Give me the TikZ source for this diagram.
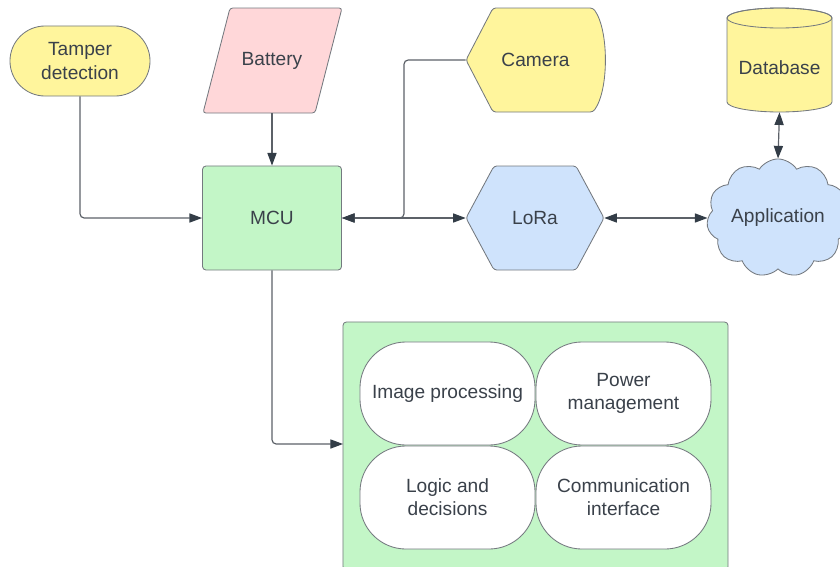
\documentclass[tikz,border=0pt]{standalone}
\usepackage{fontspec}
\setmainfont{Liberation Sans}
\usepackage{xcolor}
\usetikzlibrary{arrows.meta,shapes.symbols}

\definecolor{edgegray}{HTML}{5C6168}
\definecolor{tipgray}{HTML}{333D47}
\definecolor{txtgray}{HTML}{3A414A}
\definecolor{yelfill}{HTML}{FFF59C}
\definecolor{pinkfill}{HTML}{FFD7D9}
\definecolor{greenfill}{HTML}{C3F6C7}
\definecolor{bluefill}{HTML}{CFE3FC}

\begin{document}
\begin{tikzpicture}[x=0.025cm,y=-0.025cm,
        txt/.style={font=\fontsize{13.6}{16.5}\selectfont,text=txtgray,align=center,inner sep=0pt},
        outline/.style={draw=edgegray!85,line width=0.6pt},
        box/.style={txt,rectangle,minimum width=#1},
        wire/.style={draw=edgegray,line width=0.85pt,rounded corners=3pt},
        tip/.style={-{Triangle[length=9pt,width=6.5pt,color=tipgray]}},
        twotip/.style={{Triangle[length=9pt,width=6.5pt,color=tipgray]}-{Triangle[length=9pt,width=6.5pt,color=tipgray]}},
        blob/.style={txt,outline,fill=white,minimum width=4.375cm,minimum height=2.575cm,rounded corners=1.15cm}]
        \useasboundingbox (0,0) rectangle (840,566);

        % Inputs
        \draw (80,61) node[txt,outline,fill=yelfill,minimum width=3.5cm,minimum height=1.75cm,rounded corners=0.875cm](tamper) {Tamper\\detection};
        \draw[outline,fill=pinkfill,rounded corners=2pt] (203,113) -- (230,8) -- (342,8) -- (315,113) -- cycle;
        \draw (272,60.5) node[box=3.475cm,minimum height=2.625cm](battery) {Battery};
        \draw[outline,fill=yelfill,rounded corners=2pt] (466,60) -- (493,8) -- (593,8) .. controls (609,30) and (609,90) .. (593,112) -- (493,112) -- cycle;
        \draw (535.5,60) node[box=3.475cm,minimum height=2.6cm](camera) {Camera};

        % Controller
        \draw (272,218) node[txt,outline,fill=greenfill,minimum width=3.475cm,minimum height=2.6cm,rounded corners=2.5pt](mcu) {MCU};

        % Radio link
        \draw[outline,fill=bluefill,rounded corners=2pt] (466,218) -- (494,166) -- (576,166) -- (604,218) -- (576,270) -- (494,270) -- cycle;
        \draw (535,218) node[box=3.45cm,minimum height=2.6cm](lora) {LoRa};

        % Backend
        \draw[outline,fill=yelfill] (727,18) -- (727,102) arc[start angle=180,end angle=0,x radius=52.5,y radius=10] -- (832,18) arc[start angle=0,end angle=-180,x radius=52.5,y radius=10];
        \draw[outline] (779.5,18) ellipse[x radius=52.5,y radius=10];
        \draw (779.5,68) node[box=2.625cm,minimum height=2.2cm](db) {Database};
        \draw (778,218) node[txt,outline,fill=bluefill,cloud,cloud puffs=11,cloud puff arc=115,aspect=1.3,minimum width=3.35cm,minimum height=2.6cm](app) {Application};

        % Firmware blocks
        \draw (535.5,446) node[outline,fill=greenfill,minimum width=9.625cm,minimum height=6.2cm,rounded corners=2.5pt](core) {};
        \draw (447.5,393.5) node[blob](imgproc) {Image processing};
        \draw (623.5,393.5) node[blob](power) {Power\\management};
        \draw (447.5,497.5) node[blob](logic) {Logic and\\decisions};
        \draw (623.5,497.5) node[blob](comms) {Communication\\interface};

        % Connections
        \coordinate (camjoin) at (404,218);
        \coordinate (corein) at (343,444);
        \draw[wire,tip] (tamper.south) |- (mcu.west);
        \draw[wire,tip] (battery.south) -- (mcu.north);
        \draw[wire,tip] (camera.west) -| (camjoin) -- (mcu.east);
        \draw[wire,twotip] (mcu.east) -- (lora.west);
        \draw[wire,twotip] (lora.east) -- (app.west);
        \draw[wire,twotip] (db.south) -- (app.north);
        \draw[wire,tip] (mcu.south) |- (corein);
    \end{tikzpicture}
\end{document}
